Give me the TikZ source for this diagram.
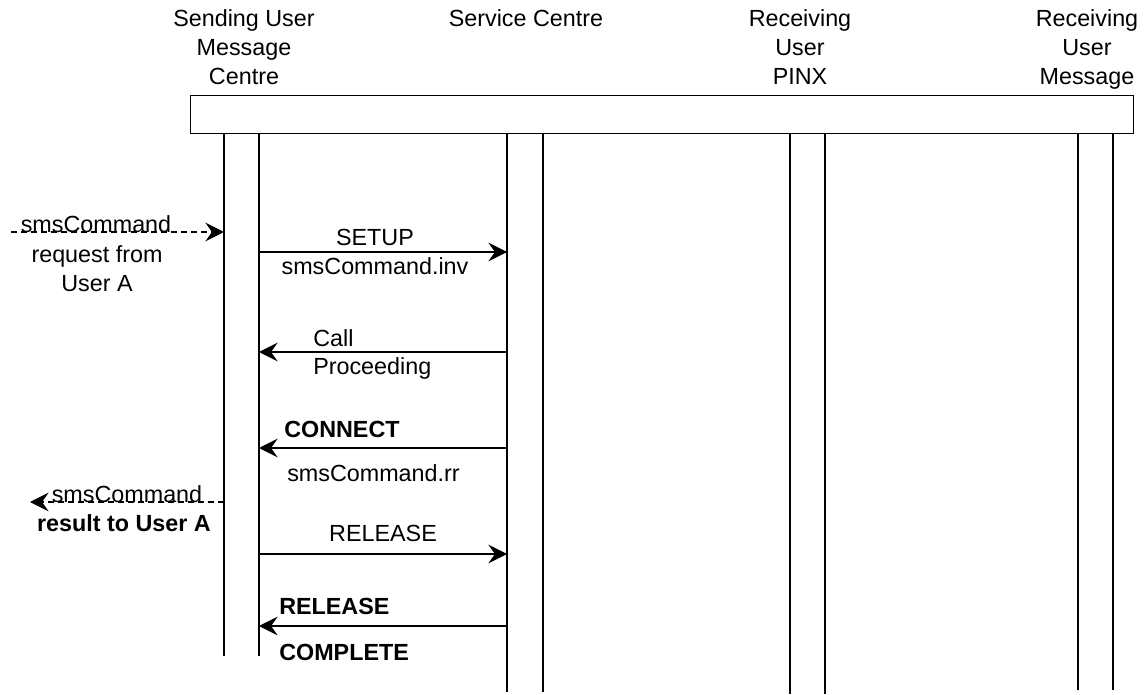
\documentclass[tikz,border=0pt]{standalone}
\usepackage{fontspec}
\setmainfont{Liberation Sans}
\usetikzlibrary{arrows.meta}
\begin{document}
\begin{tikzpicture}[x=0.75pt,y=-0.75pt,
  life/.style={line width=0.9pt},
  msg/.style={line width=1pt,-{Stealth[length=14pt,width=14pt,inset=5pt]}},
  ext/.style={msg,dash pattern=on 4.5pt off 3pt},
  lbl/.style={inner sep=0pt,font=\fontsize{17.5}{21}\selectfont,text height=12.6pt,text depth=0pt},
  blbl/.style={lbl,font=\fontsize{17.5}{21}\selectfont\bfseries},
  ttl/.style={lbl}]
\useasboundingbox (0,0) rectangle (1147,695);
% header box
\node[draw,line width=1pt,inner sep=0pt,minimum width=707.25pt,minimum height=28.5pt,anchor=north west] (hdr) at (190,95) {};
% titles
\node[ttl] (t1a) at (244,18) {Sending User};
\node[ttl] (t1b) at (244,47) {Message};
\node[ttl] (t1c) at (244,76) {Centre};
\node[ttl] (t2a) at (526,18) {Service Centre};
\node[ttl] (t3a) at (800,18) {Receiving};
\node[ttl] (t3b) at (800,47) {User};
\node[ttl] (t3c) at (800,76) {PINX};
\node[ttl] (t4a) at (1087,18) {Receiving};
\node[ttl] (t4b) at (1087,47) {User};
\node[ttl] (t4c) at (1087,76) {Message};
% lifelines
\coordinate (sAt) at (224,133); \coordinate (sAb) at (224,656);
\coordinate (sBt) at (259,133); \coordinate (sBb) at (259,656);
\coordinate (cAt) at (507,133); \coordinate (cAb) at (507,692);
\coordinate (cBt) at (543,133); \coordinate (cBb) at (543,692);
\coordinate (pAt) at (790,133); \coordinate (pAb) at (790,694);
\coordinate (pBt) at (825,133); \coordinate (pBb) at (825,694);
\coordinate (mAt) at (1078,133); \coordinate (mAb) at (1078,690);
\coordinate (mBt) at (1113,133); \coordinate (mBb) at (1113,690);
\draw[life] (sAt) -- (sAb); \draw[life] (sBt) -- (sBb);
\draw[life] (cAt) -- (cAb); \draw[life] (cBt) -- (cBb);
\draw[life] (pAt) -- (pAb); \draw[life] (pBt) -- (pBb);
\draw[life] (mAt) -- (mAb); \draw[life] (mBt) -- (mBb);
% incoming request
\coordinate (reqS) at (11,232); \coordinate (reqE) at (224,232);
\draw[ext] (reqS) -- (reqE);
\node[lbl,anchor=base] (req1) at (96,233) {smsCommand};
\node[lbl] (req2) at (97,254) {request from};
\node[lbl] (req3) at (97,283) {User A};
% SETUP
\coordinate (m1s) at (259,252); \coordinate (m1e) at (507,252);
\draw[msg] (m1s) -- (m1e);
\node[lbl] (m1a) at (375,237) {SETUP};
\node[lbl] (m1b) at (375,266) {smsCommand.inv};
% Call Proceeding
\coordinate (m2s) at (507,352); \coordinate (m2e) at (259,352);
\draw[msg] (m2s) -- (m2e);
\node[lbl,anchor=west] (m2a) at (313,338) {Call};
\node[lbl,anchor=west] (m2b) at (313,366) {Proceeding};
% CONNECT
\coordinate (m3s) at (507,448); \coordinate (m3e) at (259,448);
\draw[msg] (m3s) -- (m3e);
\node[blbl,anchor=west] (m3a) at (284,429) {CONNECT};
\node[lbl,anchor=west] (m3b) at (287,473) {smsCommand.rr};
% result to user A
\coordinate (resS) at (224,502); \coordinate (resE) at (30,502);
\draw[ext] (resS) -- (resE);
\node[lbl,anchor=base] (res1) at (127,503) {smsCommand};
\node[blbl] (res2) at (124,523) {result to User A};
% RELEASE
\coordinate (m4s) at (259,554); \coordinate (m4e) at (507,554);
\draw[msg] (m4s) -- (m4e);
\node[lbl] (m4a) at (383,533) {RELEASE};
% RELEASE COMPLETE
\coordinate (m5s) at (507,626); \coordinate (m5e) at (259,626);
\draw[msg] (m5s) -- (m5e);
\node[blbl,anchor=west] (m5a) at (279,606) {RELEASE};
\node[blbl,anchor=west] (m5b) at (279,652) {COMPLETE};
\end{tikzpicture}
\end{document}
